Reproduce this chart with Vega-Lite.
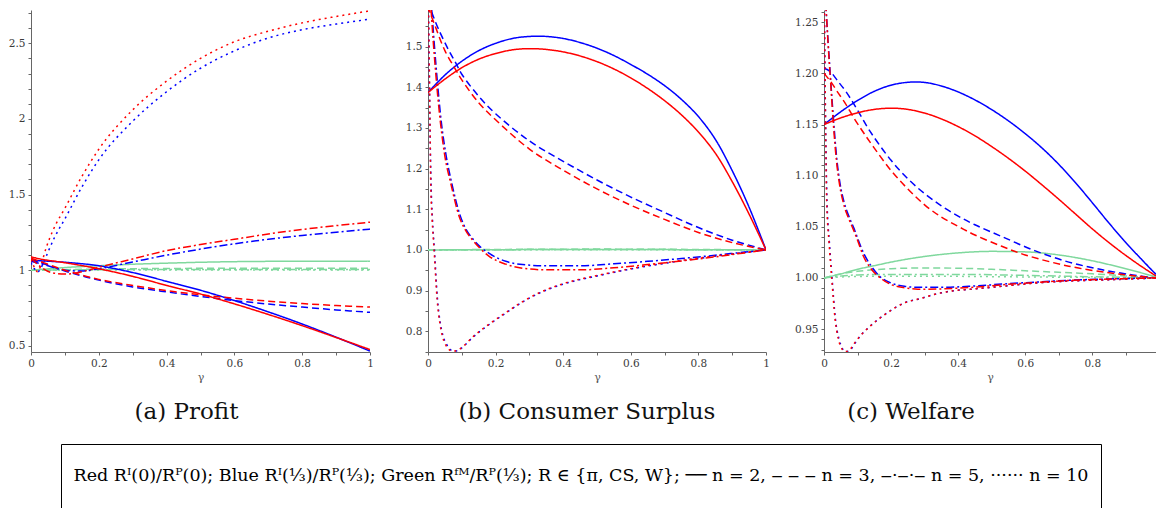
{
"$schema": "https://vega.github.io/schema/vega-lite/v6.json",
"background": "white",
"padding": {"left": 0, "top": 7, "right": 0, "bottom": 0},
"config": {
  "view": {"stroke": null},
  "font": "DejaVu Serif",
  "axis": {"labelFont": "DejaVu Serif", "labelFontSize": 10.5, "labelColor": "#3a3a3a", "domainColor": "#666666", "tickColor": "#666666", "tickSize": 3, "grid": false, "titleFont": "DejaVu Serif", "titleFontWeight": "normal", "titleFontSize": 11, "titleColor": "#555555", "labelOverlap": false, "labelFlush": false},
  "title": {"font": "DejaVu Serif", "fontSize": 23, "fontWeight": "normal", "color": "#111111"},
  "line": {"strokeWidth": 1.5, "clip": true}
},
"datasets": {
"profit": [
{"color":"Red","n":"2","gamma":0,"ratio":1.09},{"color":"Red","n":"2","gamma":0.02,"ratio":1.078},{"color":"Red","n":"2","gamma":0.05,"ratio":1.066},{"color":"Red","n":"2","gamma":0.1,"ratio":1.05},{"color":"Red","n":"2","gamma":0.2,"ratio":1.01},{"color":"Red","n":"2","gamma":0.3,"ratio":0.96},{"color":"Red","n":"2","gamma":0.4,"ratio":0.9},{"color":"Red","n":"2","gamma":0.5,"ratio":0.843},{"color":"Red","n":"2","gamma":0.6,"ratio":0.778},{"color":"Red","n":"2","gamma":0.7,"ratio":0.708},{"color":"Red","n":"2","gamma":0.8,"ratio":0.634},{"color":"Red","n":"2","gamma":0.9,"ratio":0.556},{"color":"Red","n":"2","gamma":1,"ratio":0.476},
{"color":"Blue","n":"2","gamma":0,"ratio":1.065},{"color":"Blue","n":"2","gamma":0.05,"ratio":1.06},{"color":"Blue","n":"2","gamma":0.1,"ratio":1.053},{"color":"Blue","n":"2","gamma":0.2,"ratio":1.03},{"color":"Blue","n":"2","gamma":0.3,"ratio":0.985},{"color":"Blue","n":"2","gamma":0.4,"ratio":0.927},{"color":"Blue","n":"2","gamma":0.5,"ratio":0.868},{"color":"Blue","n":"2","gamma":0.6,"ratio":0.8},{"color":"Blue","n":"2","gamma":0.7,"ratio":0.725},{"color":"Blue","n":"2","gamma":0.8,"ratio":0.645},{"color":"Blue","n":"2","gamma":0.9,"ratio":0.558},{"color":"Blue","n":"2","gamma":1,"ratio":0.466},
{"color":"Red","n":"3","gamma":0,"ratio":1.08},{"color":"Red","n":"3","gamma":0.05,"ratio":1.04},{"color":"Red","n":"3","gamma":0.1,"ratio":1.0},{"color":"Red","n":"3","gamma":0.2,"ratio":0.94},{"color":"Red","n":"3","gamma":0.3,"ratio":0.9},{"color":"Red","n":"3","gamma":0.4,"ratio":0.866},{"color":"Red","n":"3","gamma":0.5,"ratio":0.838},{"color":"Red","n":"3","gamma":0.6,"ratio":0.815},{"color":"Red","n":"3","gamma":0.7,"ratio":0.796},{"color":"Red","n":"3","gamma":0.8,"ratio":0.78},{"color":"Red","n":"3","gamma":0.9,"ratio":0.767},{"color":"Red","n":"3","gamma":1,"ratio":0.757},
{"color":"Blue","n":"3","gamma":0,"ratio":1.07},{"color":"Blue","n":"3","gamma":0.05,"ratio":1.035},{"color":"Blue","n":"3","gamma":0.1,"ratio":0.995},{"color":"Blue","n":"3","gamma":0.2,"ratio":0.935},{"color":"Blue","n":"3","gamma":0.3,"ratio":0.89},{"color":"Blue","n":"3","gamma":0.4,"ratio":0.857},{"color":"Blue","n":"3","gamma":0.5,"ratio":0.827},{"color":"Blue","n":"3","gamma":0.6,"ratio":0.8},{"color":"Blue","n":"3","gamma":0.7,"ratio":0.777},{"color":"Blue","n":"3","gamma":0.8,"ratio":0.757},{"color":"Blue","n":"3","gamma":0.9,"ratio":0.738},{"color":"Blue","n":"3","gamma":1,"ratio":0.722},
{"color":"Red","n":"5","gamma":0,"ratio":1.08},{"color":"Red","n":"5","gamma":0.03,"ratio":1.02},{"color":"Red","n":"5","gamma":0.06,"ratio":0.985},{"color":"Red","n":"5","gamma":0.1,"ratio":0.975},{"color":"Red","n":"5","gamma":0.15,"ratio":0.99},{"color":"Red","n":"5","gamma":0.2,"ratio":1.02},{"color":"Red","n":"5","gamma":0.3,"ratio":1.075},{"color":"Red","n":"5","gamma":0.4,"ratio":1.13},{"color":"Red","n":"5","gamma":0.5,"ratio":1.17},{"color":"Red","n":"5","gamma":0.6,"ratio":1.205},{"color":"Red","n":"5","gamma":0.7,"ratio":1.24},{"color":"Red","n":"5","gamma":0.8,"ratio":1.27},{"color":"Red","n":"5","gamma":0.9,"ratio":1.295},{"color":"Red","n":"5","gamma":1,"ratio":1.318},
{"color":"Blue","n":"5","gamma":0,"ratio":1.06},{"color":"Blue","n":"5","gamma":0.05,"ratio":1.03},{"color":"Blue","n":"5","gamma":0.1,"ratio":1.0},{"color":"Blue","n":"5","gamma":0.15,"ratio":0.995},{"color":"Blue","n":"5","gamma":0.2,"ratio":1.01},{"color":"Blue","n":"5","gamma":0.3,"ratio":1.055},{"color":"Blue","n":"5","gamma":0.4,"ratio":1.1},{"color":"Blue","n":"5","gamma":0.5,"ratio":1.14},{"color":"Blue","n":"5","gamma":0.6,"ratio":1.175},{"color":"Blue","n":"5","gamma":0.7,"ratio":1.205},{"color":"Blue","n":"5","gamma":0.8,"ratio":1.23},{"color":"Blue","n":"5","gamma":0.9,"ratio":1.252},{"color":"Blue","n":"5","gamma":1,"ratio":1.272},
{"color":"Red","n":"10","gamma":0,"ratio":1.07},{"color":"Red","n":"10","gamma":0.01,"ratio":1.02},{"color":"Red","n":"10","gamma":0.02,"ratio":0.99},{"color":"Red","n":"10","gamma":0.03,"ratio":1.04},{"color":"Red","n":"10","gamma":0.045,"ratio":1.15},{"color":"Red","n":"10","gamma":0.066,"ratio":1.27},{"color":"Red","n":"10","gamma":0.1,"ratio":1.41},{"color":"Red","n":"10","gamma":0.15,"ratio":1.62},{"color":"Red","n":"10","gamma":0.2,"ratio":1.8},{"color":"Red","n":"10","gamma":0.3,"ratio":2.06},{"color":"Red","n":"10","gamma":0.4,"ratio":2.25},{"color":"Red","n":"10","gamma":0.5,"ratio":2.4},{"color":"Red","n":"10","gamma":0.6,"ratio":2.51},{"color":"Red","n":"10","gamma":0.7,"ratio":2.58},{"color":"Red","n":"10","gamma":0.8,"ratio":2.635},{"color":"Red","n":"10","gamma":0.9,"ratio":2.677},{"color":"Red","n":"10","gamma":1,"ratio":2.715},
{"color":"Blue","n":"10","gamma":0,"ratio":1.05},{"color":"Blue","n":"10","gamma":0.01,"ratio":1.01},{"color":"Blue","n":"10","gamma":0.02,"ratio":0.99},{"color":"Blue","n":"10","gamma":0.035,"ratio":1.04},{"color":"Blue","n":"10","gamma":0.05,"ratio":1.12},{"color":"Blue","n":"10","gamma":0.07,"ratio":1.22},{"color":"Blue","n":"10","gamma":0.1,"ratio":1.34},{"color":"Blue","n":"10","gamma":0.15,"ratio":1.55},{"color":"Blue","n":"10","gamma":0.2,"ratio":1.73},{"color":"Blue","n":"10","gamma":0.3,"ratio":1.985},{"color":"Blue","n":"10","gamma":0.4,"ratio":2.18},{"color":"Blue","n":"10","gamma":0.5,"ratio":2.335},{"color":"Blue","n":"10","gamma":0.6,"ratio":2.45},{"color":"Blue","n":"10","gamma":0.7,"ratio":2.535},{"color":"Blue","n":"10","gamma":0.8,"ratio":2.59},{"color":"Blue","n":"10","gamma":0.9,"ratio":2.627},{"color":"Blue","n":"10","gamma":1,"ratio":2.66},
{"color":"Green","n":"2","gamma":0,"ratio":1.0},{"color":"Green","n":"2","gamma":0.1,"ratio":1.018},{"color":"Green","n":"2","gamma":0.2,"ratio":1.03},{"color":"Green","n":"2","gamma":0.3,"ratio":1.04},{"color":"Green","n":"2","gamma":0.4,"ratio":1.047},{"color":"Green","n":"2","gamma":0.5,"ratio":1.053},{"color":"Green","n":"2","gamma":0.6,"ratio":1.057},{"color":"Green","n":"2","gamma":0.7,"ratio":1.059},{"color":"Green","n":"2","gamma":0.8,"ratio":1.06},{"color":"Green","n":"2","gamma":0.9,"ratio":1.06},{"color":"Green","n":"2","gamma":1,"ratio":1.059},
{"color":"Green","n":"3","gamma":0,"ratio":1.0},{"color":"Green","n":"3","gamma":0.2,"ratio":1.008},{"color":"Green","n":"3","gamma":0.4,"ratio":1.012},{"color":"Green","n":"3","gamma":0.6,"ratio":1.013},{"color":"Green","n":"3","gamma":0.8,"ratio":1.013},{"color":"Green","n":"3","gamma":1,"ratio":1.013},
{"color":"Green","n":"5","gamma":0,"ratio":1.0},{"color":"Green","n":"5","gamma":0.2,"ratio":1.004},{"color":"Green","n":"5","gamma":0.5,"ratio":1.006},{"color":"Green","n":"5","gamma":0.8,"ratio":1.006},{"color":"Green","n":"5","gamma":1,"ratio":1.006},
{"color":"Green","n":"10","gamma":0,"ratio":1.0},{"color":"Green","n":"10","gamma":0.2,"ratio":1.002},{"color":"Green","n":"10","gamma":0.5,"ratio":1.002},{"color":"Green","n":"10","gamma":0.8,"ratio":1.002},{"color":"Green","n":"10","gamma":1,"ratio":1.002}
],
"cs": [
{"color":"Red","n":"2","gamma":0,"ratio":1.387},{"color":"Red","n":"2","gamma":0.05,"ratio":1.42},{"color":"Red","n":"2","gamma":0.1,"ratio":1.448},{"color":"Red","n":"2","gamma":0.15,"ratio":1.469},{"color":"Red","n":"2","gamma":0.2,"ratio":1.483},{"color":"Red","n":"2","gamma":0.25,"ratio":1.492},{"color":"Red","n":"2","gamma":0.3,"ratio":1.495},{"color":"Red","n":"2","gamma":0.35,"ratio":1.493},{"color":"Red","n":"2","gamma":0.4,"ratio":1.487},{"color":"Red","n":"2","gamma":0.45,"ratio":1.477},{"color":"Red","n":"2","gamma":0.5,"ratio":1.463},{"color":"Red","n":"2","gamma":0.55,"ratio":1.445},{"color":"Red","n":"2","gamma":0.6,"ratio":1.423},{"color":"Red","n":"2","gamma":0.65,"ratio":1.397},{"color":"Red","n":"2","gamma":0.7,"ratio":1.367},{"color":"Red","n":"2","gamma":0.75,"ratio":1.332},{"color":"Red","n":"2","gamma":0.8,"ratio":1.29},{"color":"Red","n":"2","gamma":0.85,"ratio":1.238},{"color":"Red","n":"2","gamma":0.9,"ratio":1.168},{"color":"Red","n":"2","gamma":0.95,"ratio":1.088},{"color":"Red","n":"2","gamma":1,"ratio":1.0},
{"color":"Blue","n":"2","gamma":0,"ratio":1.387},{"color":"Blue","n":"2","gamma":0.05,"ratio":1.43},{"color":"Blue","n":"2","gamma":0.1,"ratio":1.464},{"color":"Blue","n":"2","gamma":0.15,"ratio":1.49},{"color":"Blue","n":"2","gamma":0.2,"ratio":1.508},{"color":"Blue","n":"2","gamma":0.25,"ratio":1.52},{"color":"Blue","n":"2","gamma":0.3,"ratio":1.525},{"color":"Blue","n":"2","gamma":0.35,"ratio":1.525},{"color":"Blue","n":"2","gamma":0.4,"ratio":1.52},{"color":"Blue","n":"2","gamma":0.45,"ratio":1.51},{"color":"Blue","n":"2","gamma":0.5,"ratio":1.496},{"color":"Blue","n":"2","gamma":0.55,"ratio":1.478},{"color":"Blue","n":"2","gamma":0.6,"ratio":1.456},{"color":"Blue","n":"2","gamma":0.65,"ratio":1.432},{"color":"Blue","n":"2","gamma":0.7,"ratio":1.404},{"color":"Blue","n":"2","gamma":0.75,"ratio":1.37},{"color":"Blue","n":"2","gamma":0.8,"ratio":1.328},{"color":"Blue","n":"2","gamma":0.85,"ratio":1.272},{"color":"Blue","n":"2","gamma":0.9,"ratio":1.195},{"color":"Blue","n":"2","gamma":0.95,"ratio":1.105},{"color":"Blue","n":"2","gamma":1,"ratio":1.0},
{"color":"Red","n":"3","gamma":0,"ratio":1.6},{"color":"Red","n":"3","gamma":0.01,"ratio":1.575},{"color":"Red","n":"3","gamma":0.02,"ratio":1.553},{"color":"Red","n":"3","gamma":0.05,"ratio":1.49},{"color":"Red","n":"3","gamma":0.082,"ratio":1.443},{"color":"Red","n":"3","gamma":0.1,"ratio":1.418},{"color":"Red","n":"3","gamma":0.15,"ratio":1.362},{"color":"Red","n":"3","gamma":0.2,"ratio":1.32},{"color":"Red","n":"3","gamma":0.3,"ratio":1.248},{"color":"Red","n":"3","gamma":0.4,"ratio":1.196},{"color":"Red","n":"3","gamma":0.5,"ratio":1.15},{"color":"Red","n":"3","gamma":0.6,"ratio":1.11},{"color":"Red","n":"3","gamma":0.7,"ratio":1.075},{"color":"Red","n":"3","gamma":0.8,"ratio":1.043},{"color":"Red","n":"3","gamma":0.9,"ratio":1.018},{"color":"Red","n":"3","gamma":1,"ratio":1.0},
{"color":"Blue","n":"3","gamma":0,"ratio":1.61},{"color":"Blue","n":"3","gamma":0.013,"ratio":1.58},{"color":"Blue","n":"3","gamma":0.03,"ratio":1.545},{"color":"Blue","n":"3","gamma":0.06,"ratio":1.493},{"color":"Blue","n":"3","gamma":0.082,"ratio":1.46},{"color":"Blue","n":"3","gamma":0.1,"ratio":1.432},{"color":"Blue","n":"3","gamma":0.15,"ratio":1.378},{"color":"Blue","n":"3","gamma":0.2,"ratio":1.335},{"color":"Blue","n":"3","gamma":0.3,"ratio":1.268},{"color":"Blue","n":"3","gamma":0.4,"ratio":1.218},{"color":"Blue","n":"3","gamma":0.5,"ratio":1.172},{"color":"Blue","n":"3","gamma":0.6,"ratio":1.13},{"color":"Blue","n":"3","gamma":0.7,"ratio":1.092},{"color":"Blue","n":"3","gamma":0.8,"ratio":1.055},{"color":"Blue","n":"3","gamma":0.9,"ratio":1.024},{"color":"Blue","n":"3","gamma":1,"ratio":1.0},
{"color":"Red","n":"5","gamma":0,"ratio":1.75},{"color":"Red","n":"5","gamma":0.005,"ratio":1.65},{"color":"Red","n":"5","gamma":0.01,"ratio":1.58},{"color":"Red","n":"5","gamma":0.022,"ratio":1.443},{"color":"Red","n":"5","gamma":0.037,"ratio":1.312},{"color":"Red","n":"5","gamma":0.05,"ratio":1.23},{"color":"Red","n":"5","gamma":0.067,"ratio":1.165},{"color":"Red","n":"5","gamma":0.092,"ratio":1.083},{"color":"Red","n":"5","gamma":0.11,"ratio":1.05},{"color":"Red","n":"5","gamma":0.131,"ratio":1.025},{"color":"Red","n":"5","gamma":0.155,"ratio":1.003},{"color":"Red","n":"5","gamma":0.18,"ratio":0.985},{"color":"Red","n":"5","gamma":0.23,"ratio":0.965},{"color":"Red","n":"5","gamma":0.28,"ratio":0.955},{"color":"Red","n":"5","gamma":0.35,"ratio":0.951},{"color":"Red","n":"5","gamma":0.45,"ratio":0.951},{"color":"Red","n":"5","gamma":0.55,"ratio":0.956},{"color":"Red","n":"5","gamma":0.65,"ratio":0.964},{"color":"Red","n":"5","gamma":0.75,"ratio":0.973},{"color":"Red","n":"5","gamma":0.85,"ratio":0.983},{"color":"Red","n":"5","gamma":0.93,"ratio":0.992},{"color":"Red","n":"5","gamma":1,"ratio":1.0},
{"color":"Blue","n":"5","gamma":0,"ratio":1.75},{"color":"Blue","n":"5","gamma":0.005,"ratio":1.66},{"color":"Blue","n":"5","gamma":0.012,"ratio":1.58},{"color":"Blue","n":"5","gamma":0.024,"ratio":1.45},{"color":"Blue","n":"5","gamma":0.04,"ratio":1.31},{"color":"Blue","n":"5","gamma":0.053,"ratio":1.235},{"color":"Blue","n":"5","gamma":0.07,"ratio":1.165},{"color":"Blue","n":"5","gamma":0.095,"ratio":1.085},{"color":"Blue","n":"5","gamma":0.113,"ratio":1.05},{"color":"Blue","n":"5","gamma":0.133,"ratio":1.027},{"color":"Blue","n":"5","gamma":0.157,"ratio":1.006},{"color":"Blue","n":"5","gamma":0.18,"ratio":0.992},{"color":"Blue","n":"5","gamma":0.23,"ratio":0.972},{"color":"Blue","n":"5","gamma":0.28,"ratio":0.964},{"color":"Blue","n":"5","gamma":0.35,"ratio":0.961},{"color":"Blue","n":"5","gamma":0.45,"ratio":0.961},{"color":"Blue","n":"5","gamma":0.55,"ratio":0.966},{"color":"Blue","n":"5","gamma":0.65,"ratio":0.972},{"color":"Blue","n":"5","gamma":0.75,"ratio":0.979},{"color":"Blue","n":"5","gamma":0.85,"ratio":0.987},{"color":"Blue","n":"5","gamma":0.93,"ratio":0.994},{"color":"Blue","n":"5","gamma":1,"ratio":1.0},
{"color":"Red","n":"10","gamma":0,"ratio":1.65},{"color":"Red","n":"10","gamma":0.003,"ratio":1.5},{"color":"Red","n":"10","gamma":0.006,"ratio":1.3},{"color":"Red","n":"10","gamma":0.008,"ratio":1.165},{"color":"Red","n":"10","gamma":0.012,"ratio":1.08},{"color":"Red","n":"10","gamma":0.018,"ratio":1.0},{"color":"Red","n":"10","gamma":0.027,"ratio":0.878},{"color":"Red","n":"10","gamma":0.035,"ratio":0.82},{"color":"Red","n":"10","gamma":0.042,"ratio":0.79},{"color":"Red","n":"10","gamma":0.052,"ratio":0.767},{"color":"Red","n":"10","gamma":0.062,"ratio":0.755},{"color":"Red","n":"10","gamma":0.072,"ratio":0.751},{"color":"Red","n":"10","gamma":0.085,"ratio":0.752},{"color":"Red","n":"10","gamma":0.1,"ratio":0.76},{"color":"Red","n":"10","gamma":0.131,"ratio":0.785},{"color":"Red","n":"10","gamma":0.18,"ratio":0.817},{"color":"Red","n":"10","gamma":0.22,"ratio":0.84},{"color":"Red","n":"10","gamma":0.28,"ratio":0.873},{"color":"Red","n":"10","gamma":0.33,"ratio":0.895},{"color":"Red","n":"10","gamma":0.4,"ratio":0.917},{"color":"Red","n":"10","gamma":0.5,"ratio":0.937},{"color":"Red","n":"10","gamma":0.6,"ratio":0.954},{"color":"Red","n":"10","gamma":0.7,"ratio":0.968},{"color":"Red","n":"10","gamma":0.8,"ratio":0.98},{"color":"Red","n":"10","gamma":0.9,"ratio":0.99},{"color":"Red","n":"10","gamma":1,"ratio":1.0},
{"color":"Blue","n":"10","gamma":0,"ratio":1.65},{"color":"Blue","n":"10","gamma":0.003,"ratio":1.5},{"color":"Blue","n":"10","gamma":0.006,"ratio":1.3},{"color":"Blue","n":"10","gamma":0.009,"ratio":1.165},{"color":"Blue","n":"10","gamma":0.013,"ratio":1.08},{"color":"Blue","n":"10","gamma":0.019,"ratio":1.0},{"color":"Blue","n":"10","gamma":0.028,"ratio":0.88},{"color":"Blue","n":"10","gamma":0.036,"ratio":0.822},{"color":"Blue","n":"10","gamma":0.044,"ratio":0.79},{"color":"Blue","n":"10","gamma":0.055,"ratio":0.768},{"color":"Blue","n":"10","gamma":0.065,"ratio":0.756},{"color":"Blue","n":"10","gamma":0.075,"ratio":0.751},{"color":"Blue","n":"10","gamma":0.088,"ratio":0.752},{"color":"Blue","n":"10","gamma":0.1,"ratio":0.759},{"color":"Blue","n":"10","gamma":0.131,"ratio":0.784},{"color":"Blue","n":"10","gamma":0.18,"ratio":0.816},{"color":"Blue","n":"10","gamma":0.22,"ratio":0.839},{"color":"Blue","n":"10","gamma":0.28,"ratio":0.872},{"color":"Blue","n":"10","gamma":0.33,"ratio":0.894},{"color":"Blue","n":"10","gamma":0.4,"ratio":0.916},{"color":"Blue","n":"10","gamma":0.5,"ratio":0.936},{"color":"Blue","n":"10","gamma":0.6,"ratio":0.953},{"color":"Blue","n":"10","gamma":0.7,"ratio":0.967},{"color":"Blue","n":"10","gamma":0.8,"ratio":0.979},{"color":"Blue","n":"10","gamma":0.9,"ratio":0.99},{"color":"Blue","n":"10","gamma":1,"ratio":1.0},
{"color":"Green","n":"2","gamma":0,"ratio":1.0},{"color":"Green","n":"2","gamma":0.5,"ratio":1.001},{"color":"Green","n":"2","gamma":1,"ratio":1.0},
{"color":"Green","n":"3","gamma":0,"ratio":1.0},{"color":"Green","n":"3","gamma":0.5,"ratio":1.002},{"color":"Green","n":"3","gamma":1,"ratio":1.0},
{"color":"Green","n":"5","gamma":0,"ratio":1.0},{"color":"Green","n":"5","gamma":0.5,"ratio":1.001},{"color":"Green","n":"5","gamma":1,"ratio":1.0},
{"color":"Green","n":"10","gamma":0,"ratio":1.0},{"color":"Green","n":"10","gamma":0.5,"ratio":1.0005},{"color":"Green","n":"10","gamma":1,"ratio":1.0}
],
"welfare": [
{"color":"Red","n":"2","gamma":0,"ratio":1.15},{"color":"Red","n":"2","gamma":0.05,"ratio":1.1565},{"color":"Red","n":"2","gamma":0.1,"ratio":1.1615},{"color":"Red","n":"2","gamma":0.15,"ratio":1.1648},{"color":"Red","n":"2","gamma":0.2,"ratio":1.166},{"color":"Red","n":"2","gamma":0.25,"ratio":1.1648},{"color":"Red","n":"2","gamma":0.3,"ratio":1.1612},{"color":"Red","n":"2","gamma":0.35,"ratio":1.1555},{"color":"Red","n":"2","gamma":0.4,"ratio":1.148},{"color":"Red","n":"2","gamma":0.45,"ratio":1.139},{"color":"Red","n":"2","gamma":0.5,"ratio":1.1285},{"color":"Red","n":"2","gamma":0.55,"ratio":1.117},{"color":"Red","n":"2","gamma":0.6,"ratio":1.1045},{"color":"Red","n":"2","gamma":0.65,"ratio":1.091},{"color":"Red","n":"2","gamma":0.7,"ratio":1.077},{"color":"Red","n":"2","gamma":0.75,"ratio":1.0625},{"color":"Red","n":"2","gamma":0.8,"ratio":1.048},{"color":"Red","n":"2","gamma":0.85,"ratio":1.0345},{"color":"Red","n":"2","gamma":0.9,"ratio":1.022},{"color":"Red","n":"2","gamma":0.95,"ratio":1.0105},{"color":"Red","n":"2","gamma":0.99,"ratio":1.002},
{"color":"Blue","n":"2","gamma":0,"ratio":1.15},{"color":"Blue","n":"2","gamma":0.05,"ratio":1.1625},{"color":"Blue","n":"2","gamma":0.1,"ratio":1.1735},{"color":"Blue","n":"2","gamma":0.15,"ratio":1.1825},{"color":"Blue","n":"2","gamma":0.2,"ratio":1.1885},{"color":"Blue","n":"2","gamma":0.25,"ratio":1.1913},{"color":"Blue","n":"2","gamma":0.3,"ratio":1.1912},{"color":"Blue","n":"2","gamma":0.35,"ratio":1.1877},{"color":"Blue","n":"2","gamma":0.4,"ratio":1.1819},{"color":"Blue","n":"2","gamma":0.45,"ratio":1.1741},{"color":"Blue","n":"2","gamma":0.5,"ratio":1.1646},{"color":"Blue","n":"2","gamma":0.55,"ratio":1.1536},{"color":"Blue","n":"2","gamma":0.6,"ratio":1.1411},{"color":"Blue","n":"2","gamma":0.65,"ratio":1.1271},{"color":"Blue","n":"2","gamma":0.7,"ratio":1.1111},{"color":"Blue","n":"2","gamma":0.75,"ratio":1.0931},{"color":"Blue","n":"2","gamma":0.8,"ratio":1.0736},{"color":"Blue","n":"2","gamma":0.85,"ratio":1.0536},{"color":"Blue","n":"2","gamma":0.9,"ratio":1.0346},{"color":"Blue","n":"2","gamma":0.95,"ratio":1.0171},{"color":"Blue","n":"2","gamma":0.99,"ratio":1.0035},
{"color":"Red","n":"3","gamma":0,"ratio":1.2},{"color":"Red","n":"3","gamma":0.02,"ratio":1.192},{"color":"Red","n":"3","gamma":0.04,"ratio":1.182},{"color":"Red","n":"3","gamma":0.063,"ratio":1.171},{"color":"Red","n":"3","gamma":0.09,"ratio":1.156},{"color":"Red","n":"3","gamma":0.118,"ratio":1.142},{"color":"Red","n":"3","gamma":0.15,"ratio":1.127},{"color":"Red","n":"3","gamma":0.2,"ratio":1.105},{"color":"Red","n":"3","gamma":0.25,"ratio":1.087},{"color":"Red","n":"3","gamma":0.3,"ratio":1.0715},{"color":"Red","n":"3","gamma":0.35,"ratio":1.0595},{"color":"Red","n":"3","gamma":0.4,"ratio":1.0505},{"color":"Red","n":"3","gamma":0.45,"ratio":1.042},{"color":"Red","n":"3","gamma":0.53,"ratio":1.031},{"color":"Red","n":"3","gamma":0.6,"ratio":1.0225},{"color":"Red","n":"3","gamma":0.73,"ratio":1.0115},{"color":"Red","n":"3","gamma":0.85,"ratio":1.005},{"color":"Red","n":"3","gamma":0.93,"ratio":1.002},{"color":"Red","n":"3","gamma":0.99,"ratio":1.0},
{"color":"Blue","n":"3","gamma":0,"ratio":1.205},{"color":"Blue","n":"3","gamma":0.018,"ratio":1.202},{"color":"Blue","n":"3","gamma":0.04,"ratio":1.193},{"color":"Blue","n":"3","gamma":0.068,"ratio":1.181},{"color":"Blue","n":"3","gamma":0.1,"ratio":1.164},{"color":"Blue","n":"3","gamma":0.138,"ratio":1.143},{"color":"Blue","n":"3","gamma":0.2,"ratio":1.115},{"color":"Blue","n":"3","gamma":0.25,"ratio":1.097},{"color":"Blue","n":"3","gamma":0.3,"ratio":1.0825},{"color":"Blue","n":"3","gamma":0.35,"ratio":1.0705},{"color":"Blue","n":"3","gamma":0.4,"ratio":1.0605},{"color":"Blue","n":"3","gamma":0.45,"ratio":1.052},{"color":"Blue","n":"3","gamma":0.53,"ratio":1.0405},{"color":"Blue","n":"3","gamma":0.63,"ratio":1.0265},{"color":"Blue","n":"3","gamma":0.73,"ratio":1.0155},{"color":"Blue","n":"3","gamma":0.83,"ratio":1.008},{"color":"Blue","n":"3","gamma":0.92,"ratio":1.003},{"color":"Blue","n":"3","gamma":0.99,"ratio":1.0},
{"color":"Red","n":"5","gamma":0,"ratio":1.3},{"color":"Red","n":"5","gamma":0.005,"ratio":1.27},{"color":"Red","n":"5","gamma":0.012,"ratio":1.23},{"color":"Red","n":"5","gamma":0.02,"ratio":1.19},{"color":"Red","n":"5","gamma":0.028,"ratio":1.15},{"color":"Red","n":"5","gamma":0.037,"ratio":1.115},{"color":"Red","n":"5","gamma":0.047,"ratio":1.09},{"color":"Red","n":"5","gamma":0.058,"ratio":1.073},{"color":"Red","n":"5","gamma":0.075,"ratio":1.057},{"color":"Red","n":"5","gamma":0.088,"ratio":1.047},{"color":"Red","n":"5","gamma":0.1,"ratio":1.037},{"color":"Red","n":"5","gamma":0.118,"ratio":1.021},{"color":"Red","n":"5","gamma":0.138,"ratio":1.01},{"color":"Red","n":"5","gamma":0.168,"ratio":1.0},{"color":"Red","n":"5","gamma":0.2,"ratio":0.9935},{"color":"Red","n":"5","gamma":0.24,"ratio":0.9905},{"color":"Red","n":"5","gamma":0.28,"ratio":0.989},{"color":"Red","n":"5","gamma":0.35,"ratio":0.9893},{"color":"Red","n":"5","gamma":0.45,"ratio":0.991},{"color":"Red","n":"5","gamma":0.53,"ratio":0.9933},{"color":"Red","n":"5","gamma":0.65,"ratio":0.996},{"color":"Red","n":"5","gamma":0.73,"ratio":0.9975},{"color":"Red","n":"5","gamma":0.85,"ratio":0.999},{"color":"Red","n":"5","gamma":0.99,"ratio":1.0},
{"color":"Blue","n":"5","gamma":0,"ratio":1.3},{"color":"Blue","n":"5","gamma":0.005,"ratio":1.27},{"color":"Blue","n":"5","gamma":0.012,"ratio":1.232},{"color":"Blue","n":"5","gamma":0.02,"ratio":1.193},{"color":"Blue","n":"5","gamma":0.029,"ratio":1.152},{"color":"Blue","n":"5","gamma":0.038,"ratio":1.117},{"color":"Blue","n":"5","gamma":0.048,"ratio":1.092},{"color":"Blue","n":"5","gamma":0.06,"ratio":1.074},{"color":"Blue","n":"5","gamma":0.077,"ratio":1.058},{"color":"Blue","n":"5","gamma":0.09,"ratio":1.048},{"color":"Blue","n":"5","gamma":0.1,"ratio":1.039},{"color":"Blue","n":"5","gamma":0.12,"ratio":1.023},{"color":"Blue","n":"5","gamma":0.14,"ratio":1.012},{"color":"Blue","n":"5","gamma":0.168,"ratio":1.001},{"color":"Blue","n":"5","gamma":0.2,"ratio":0.995},{"color":"Blue","n":"5","gamma":0.24,"ratio":0.9918},{"color":"Blue","n":"5","gamma":0.28,"ratio":0.9908},{"color":"Blue","n":"5","gamma":0.35,"ratio":0.9908},{"color":"Blue","n":"5","gamma":0.45,"ratio":0.9922},{"color":"Blue","n":"5","gamma":0.53,"ratio":0.994},{"color":"Blue","n":"5","gamma":0.65,"ratio":0.9963},{"color":"Blue","n":"5","gamma":0.73,"ratio":0.9977},{"color":"Blue","n":"5","gamma":0.85,"ratio":0.999},{"color":"Blue","n":"5","gamma":0.99,"ratio":1.0},
{"color":"Red","n":"10","gamma":0,"ratio":1.3},{"color":"Red","n":"10","gamma":0.003,"ratio":1.2},{"color":"Red","n":"10","gamma":0.008,"ratio":1.075},{"color":"Red","n":"10","gamma":0.015,"ratio":1.035},{"color":"Red","n":"10","gamma":0.023,"ratio":1.0},{"color":"Red","n":"10","gamma":0.033,"ratio":0.96},{"color":"Red","n":"10","gamma":0.043,"ratio":0.94},{"color":"Red","n":"10","gamma":0.053,"ratio":0.931},{"color":"Red","n":"10","gamma":0.063,"ratio":0.928},{"color":"Red","n":"10","gamma":0.075,"ratio":0.929},{"color":"Red","n":"10","gamma":0.088,"ratio":0.935},{"color":"Red","n":"10","gamma":0.11,"ratio":0.944},{"color":"Red","n":"10","gamma":0.138,"ratio":0.953},{"color":"Red","n":"10","gamma":0.189,"ratio":0.966},{"color":"Red","n":"10","gamma":0.239,"ratio":0.9755},{"color":"Red","n":"10","gamma":0.289,"ratio":0.98},{"color":"Red","n":"10","gamma":0.339,"ratio":0.9847},{"color":"Red","n":"10","gamma":0.389,"ratio":0.9876},{"color":"Red","n":"10","gamma":0.439,"ratio":0.989},{"color":"Red","n":"10","gamma":0.529,"ratio":0.9918},{"color":"Red","n":"10","gamma":0.63,"ratio":0.995},{"color":"Red","n":"10","gamma":0.73,"ratio":0.997},{"color":"Red","n":"10","gamma":0.83,"ratio":0.998},{"color":"Red","n":"10","gamma":0.99,"ratio":1.0},
{"color":"Blue","n":"10","gamma":0,"ratio":1.3},{"color":"Blue","n":"10","gamma":0.003,"ratio":1.2},{"color":"Blue","n":"10","gamma":0.009,"ratio":1.075},{"color":"Blue","n":"10","gamma":0.016,"ratio":1.035},{"color":"Blue","n":"10","gamma":0.024,"ratio":1.0},{"color":"Blue","n":"10","gamma":0.034,"ratio":0.96},{"color":"Blue","n":"10","gamma":0.045,"ratio":0.94},{"color":"Blue","n":"10","gamma":0.055,"ratio":0.931},{"color":"Blue","n":"10","gamma":0.065,"ratio":0.928},{"color":"Blue","n":"10","gamma":0.077,"ratio":0.929},{"color":"Blue","n":"10","gamma":0.09,"ratio":0.935},{"color":"Blue","n":"10","gamma":0.11,"ratio":0.944},{"color":"Blue","n":"10","gamma":0.138,"ratio":0.953},{"color":"Blue","n":"10","gamma":0.189,"ratio":0.966},{"color":"Blue","n":"10","gamma":0.239,"ratio":0.9755},{"color":"Blue","n":"10","gamma":0.289,"ratio":0.98},{"color":"Blue","n":"10","gamma":0.339,"ratio":0.9847},{"color":"Blue","n":"10","gamma":0.389,"ratio":0.9876},{"color":"Blue","n":"10","gamma":0.439,"ratio":0.989},{"color":"Blue","n":"10","gamma":0.529,"ratio":0.9918},{"color":"Blue","n":"10","gamma":0.63,"ratio":0.995},{"color":"Blue","n":"10","gamma":0.73,"ratio":0.997},{"color":"Blue","n":"10","gamma":0.83,"ratio":0.998},{"color":"Blue","n":"10","gamma":0.99,"ratio":1.0},
{"color":"Green","n":"2","gamma":0,"ratio":1.0},{"color":"Green","n":"2","gamma":0.05,"ratio":1.004},{"color":"Green","n":"2","gamma":0.1,"ratio":1.0085},{"color":"Green","n":"2","gamma":0.15,"ratio":1.012},{"color":"Green","n":"2","gamma":0.2,"ratio":1.0155},{"color":"Green","n":"2","gamma":0.3,"ratio":1.021},{"color":"Green","n":"2","gamma":0.4,"ratio":1.0245},{"color":"Green","n":"2","gamma":0.5,"ratio":1.026},{"color":"Green","n":"2","gamma":0.6,"ratio":1.0255},{"color":"Green","n":"2","gamma":0.7,"ratio":1.0225},{"color":"Green","n":"2","gamma":0.8,"ratio":1.0168},{"color":"Green","n":"2","gamma":0.9,"ratio":1.009},{"color":"Green","n":"2","gamma":0.99,"ratio":1.001},
{"color":"Green","n":"3","gamma":0,"ratio":1.0},{"color":"Green","n":"3","gamma":0.05,"ratio":1.004},{"color":"Green","n":"3","gamma":0.1,"ratio":1.0065},{"color":"Green","n":"3","gamma":0.2,"ratio":1.009},{"color":"Green","n":"3","gamma":0.3,"ratio":1.0098},{"color":"Green","n":"3","gamma":0.4,"ratio":1.0095},{"color":"Green","n":"3","gamma":0.5,"ratio":1.0085},{"color":"Green","n":"3","gamma":0.6,"ratio":1.007},{"color":"Green","n":"3","gamma":0.7,"ratio":1.0055},{"color":"Green","n":"3","gamma":0.8,"ratio":1.004},{"color":"Green","n":"3","gamma":0.9,"ratio":1.002},{"color":"Green","n":"3","gamma":0.99,"ratio":1.0},
{"color":"Green","n":"5","gamma":0,"ratio":1.0},{"color":"Green","n":"5","gamma":0.1,"ratio":1.003},{"color":"Green","n":"5","gamma":0.2,"ratio":1.0035},{"color":"Green","n":"5","gamma":0.4,"ratio":1.0035},{"color":"Green","n":"5","gamma":0.6,"ratio":1.0025},{"color":"Green","n":"5","gamma":0.8,"ratio":1.0012},{"color":"Green","n":"5","gamma":0.99,"ratio":1.0},
{"color":"Green","n":"10","gamma":0,"ratio":1.0},{"color":"Green","n":"10","gamma":0.1,"ratio":1.0015},{"color":"Green","n":"10","gamma":0.3,"ratio":1.0017},{"color":"Green","n":"10","gamma":0.6,"ratio":1.001},{"color":"Green","n":"10","gamma":0.99,"ratio":1.0}
],
"legendText": [
{"label": "Red Rᴵ(0)/Rᴾ(0); Blue Rᴵ(⅓)/Rᴾ(⅓); Green Rᶠᴹ/Rᴾ(⅓); R ∈ {π, CS, W}; ── n = 2, ‒ ‒ ‒ n = 3, ‒·‒·‒ n = 5, ······ n = 10"}
],
"spacerText": [{"label": ""}]
},
"vconcat": [
{
"hconcat": [
{
"width": 339, "height": 342,
"title": {"text": "(a) Profit", "orient": "bottom", "anchor": "middle", "frame": "group", "dx": -14, "offset": 18},
"data": {"name": "profit"},
"encoding": {
  "x": {"field": "gamma", "type": "quantitative", "scale": {"domain": [0, 1], "nice": false, "zero": false},
        "axis": {"title": "γ", "values": [0,0.1,0.2,0.3,0.4,0.5,0.6,0.7,0.8,0.9,1], "labelExpr": "indexof([0,0.2,0.4,0.6,0.8,1], datum.value) >= 0 ? format(datum.value, '') : ''", "labelPadding": 3, "titlePadding": 3}},
  "y": {"field": "ratio", "type": "quantitative", "scale": {"domain": [0.46, 2.72], "nice": false, "zero": false},
        "axis": {"title": null, "minExtent": 31, "values": [0.5,0.6,0.7,0.8,0.9,1,1.1,1.2,1.3,1.4,1.5,1.6,1.7,1.8,1.9,2,2.1,2.2,2.3,2.4,2.5,2.6,2.7], "labelExpr": "indexof([0.5,1,1.5,2,2.5], datum.value) >= 0 ? format(datum.value, '') : ''", "labelPadding": 3}},
  "color": {"field": "color", "type": "nominal", "scale": {"domain": ["Red", "Blue", "Green"], "range": ["#ff0000", "#0000ff", "#7fd89d"]}, "legend": null},
  "strokeDash": {"field": "n", "type": "ordinal", "scale": {"domain": ["2", "3", "5", "10"], "range": [[1, 0], [7, 4], [8, 3, 2, 3], [2, 4]]}, "legend": null}
},
"layer": [
  {"transform": [{"filter": "datum.color === 'Green'"}], "mark": {"type": "line", "clip": true, "interpolate": "monotone"}},
  {"transform": [{"filter": "datum.color === 'Blue' && (datum.n === '2' || datum.n === '3')"}], "mark": {"type": "line", "clip": true, "interpolate": "catmull-rom"}},
  {"transform": [{"filter": "datum.color === 'Blue' && (datum.n === '5' || datum.n === '10')"}], "mark": {"type": "line", "clip": true, "interpolate": "monotone"}},
  {"transform": [{"filter": "datum.color === 'Red' && (datum.n === '2' || datum.n === '3')"}], "mark": {"type": "line", "clip": true, "interpolate": "catmull-rom"}},
  {"transform": [{"filter": "datum.color === 'Red' && (datum.n === '5' || datum.n === '10')"}], "mark": {"type": "line", "clip": true, "interpolate": "monotone"}}
]
},
{
"width": 338, "height": 342,
"title": {"text": "(b) Consumer Surplus", "orient": "bottom", "anchor": "middle", "frame": "group", "dx": -10, "offset": 18},
"data": {"name": "cs"},
"encoding": {
  "x": {"field": "gamma", "type": "quantitative", "scale": {"domain": [0, 1], "nice": false, "zero": false},
        "axis": {"title": "γ", "values": [0,0.1,0.2,0.3,0.4,0.5,0.6,0.7,0.8,0.9,1], "labelExpr": "indexof([0,0.2,0.4,0.6,0.8,1], datum.value) >= 0 ? format(datum.value, '') : ''", "labelPadding": 3, "titlePadding": 3}},
  "y": {"field": "ratio", "type": "quantitative", "scale": {"domain": [0.749, 1.59], "nice": false, "zero": false},
        "axis": {"title": null, "values": [0.75,0.8,0.85,0.9,0.95,1,1.05,1.1,1.15,1.2,1.25,1.3,1.35,1.4,1.45,1.5,1.55], "labelExpr": "indexof([0.8,0.9,1,1.1,1.2,1.3,1.4,1.5], datum.value) >= 0 ? format(datum.value, '.1f') : ''", "labelPadding": 3}},
  "color": {"field": "color", "type": "nominal", "scale": {"domain": ["Red", "Blue", "Green"], "range": ["#ff0000", "#0000ff", "#7fd89d"]}, "legend": null},
  "strokeDash": {"field": "n", "type": "ordinal", "scale": {"domain": ["2", "3", "5", "10"], "range": [[1, 0], [7, 4], [8, 3, 2, 3], [2, 4]]}, "legend": null}
},
"layer": [
  {"transform": [{"filter": "datum.color === 'Green'"}], "mark": {"type": "line", "clip": true, "interpolate": "monotone"}},
  {"transform": [{"filter": "datum.color === 'Blue' && (datum.n === '2' || datum.n === '3')"}], "mark": {"type": "line", "clip": true, "interpolate": "catmull-rom"}},
  {"transform": [{"filter": "datum.color === 'Blue' && (datum.n === '5' || datum.n === '10')"}], "mark": {"type": "line", "clip": true, "interpolate": "monotone"}},
  {"transform": [{"filter": "datum.color === 'Red' && (datum.n === '2' || datum.n === '3')"}], "mark": {"type": "line", "clip": true, "interpolate": "catmull-rom"}},
  {"transform": [{"filter": "datum.color === 'Red' && (datum.n === '5' || datum.n === '10')"}], "mark": {"type": "line", "clip": true, "interpolate": "monotone"}}
]
},
{
"width": 332, "height": 342,
"title": {"text": "(c) Welfare", "orient": "bottom", "anchor": "middle", "frame": "group", "dx": -79, "offset": 18},
"data": {"name": "welfare"},
"encoding": {
  "x": {"field": "gamma", "type": "quantitative", "scale": {"domain": [0, 0.99], "nice": false, "zero": false},
        "axis": {"title": "γ", "values": [0,0.1,0.2,0.3,0.4,0.5,0.6,0.7,0.8,0.9], "labelExpr": "indexof([0,0.2,0.4,0.6,0.8], datum.value) >= 0 ? format(datum.value, '') : ''", "labelPadding": 3, "titlePadding": 3}},
  "y": {"field": "ratio", "type": "quantitative", "scale": {"domain": [0.9276, 1.262], "nice": false, "zero": false},
        "axis": {"title": null, "values": [0.93,0.94,0.95,0.96,0.97,0.98,0.99,1,1.01,1.02,1.03,1.04,1.05,1.06,1.07,1.08,1.09,1.1,1.11,1.12,1.13,1.14,1.15,1.16,1.17,1.18,1.19,1.2,1.21,1.22,1.23,1.24,1.25,1.26], "labelExpr": "indexof([0.95,1,1.05,1.1,1.15,1.2,1.25], datum.value) >= 0 ? format(datum.value, '.2f') : ''", "labelPadding": 3}},
  "color": {"field": "color", "type": "nominal", "scale": {"domain": ["Red", "Blue", "Green"], "range": ["#ff0000", "#0000ff", "#7fd89d"]}, "legend": null},
  "strokeDash": {"field": "n", "type": "ordinal", "scale": {"domain": ["2", "3", "5", "10"], "range": [[1, 0], [7, 4], [8, 3, 2, 3], [2, 4]]}, "legend": null}
},
"layer": [
  {"transform": [{"filter": "datum.color === 'Green'"}], "mark": {"type": "line", "clip": true, "interpolate": "monotone"}},
  {"transform": [{"filter": "datum.color === 'Blue' && (datum.n === '2' || datum.n === '3')"}], "mark": {"type": "line", "clip": true, "interpolate": "catmull-rom"}},
  {"transform": [{"filter": "datum.color === 'Blue' && (datum.n === '5' || datum.n === '10')"}], "mark": {"type": "line", "clip": true, "interpolate": "monotone"}},
  {"transform": [{"filter": "datum.color === 'Red' && (datum.n === '2' || datum.n === '3')"}], "mark": {"type": "line", "clip": true, "interpolate": "catmull-rom"}},
  {"transform": [{"filter": "datum.color === 'Red' && (datum.n === '5' || datum.n === '10')"}], "mark": {"type": "line", "clip": true, "interpolate": "monotone"}}
]
}
],
"spacing": 58,
"bounds": "flush"
},
{
"hconcat": [
{
"width": 1, "height": 64,
"data": {"name": "spacerText"},
"mark": {"type": "text"},
"encoding": {"text": {"field": "label", "type": "nominal"}}
},
{
"width": 1040, "height": 64,
"view": {"stroke": "#000000", "strokeWidth": 1},
"data": {"name": "legendText"},
"mark": {"type": "text", "font": "DejaVu Serif", "fontSize": 17.5, "baseline": "middle", "align": "center", "color": "#000000", "dy": 0},
"encoding": {"text": {"field": "label", "type": "nominal"}}
}
],
"spacing": 28
}
],
"spacing": 19
}
